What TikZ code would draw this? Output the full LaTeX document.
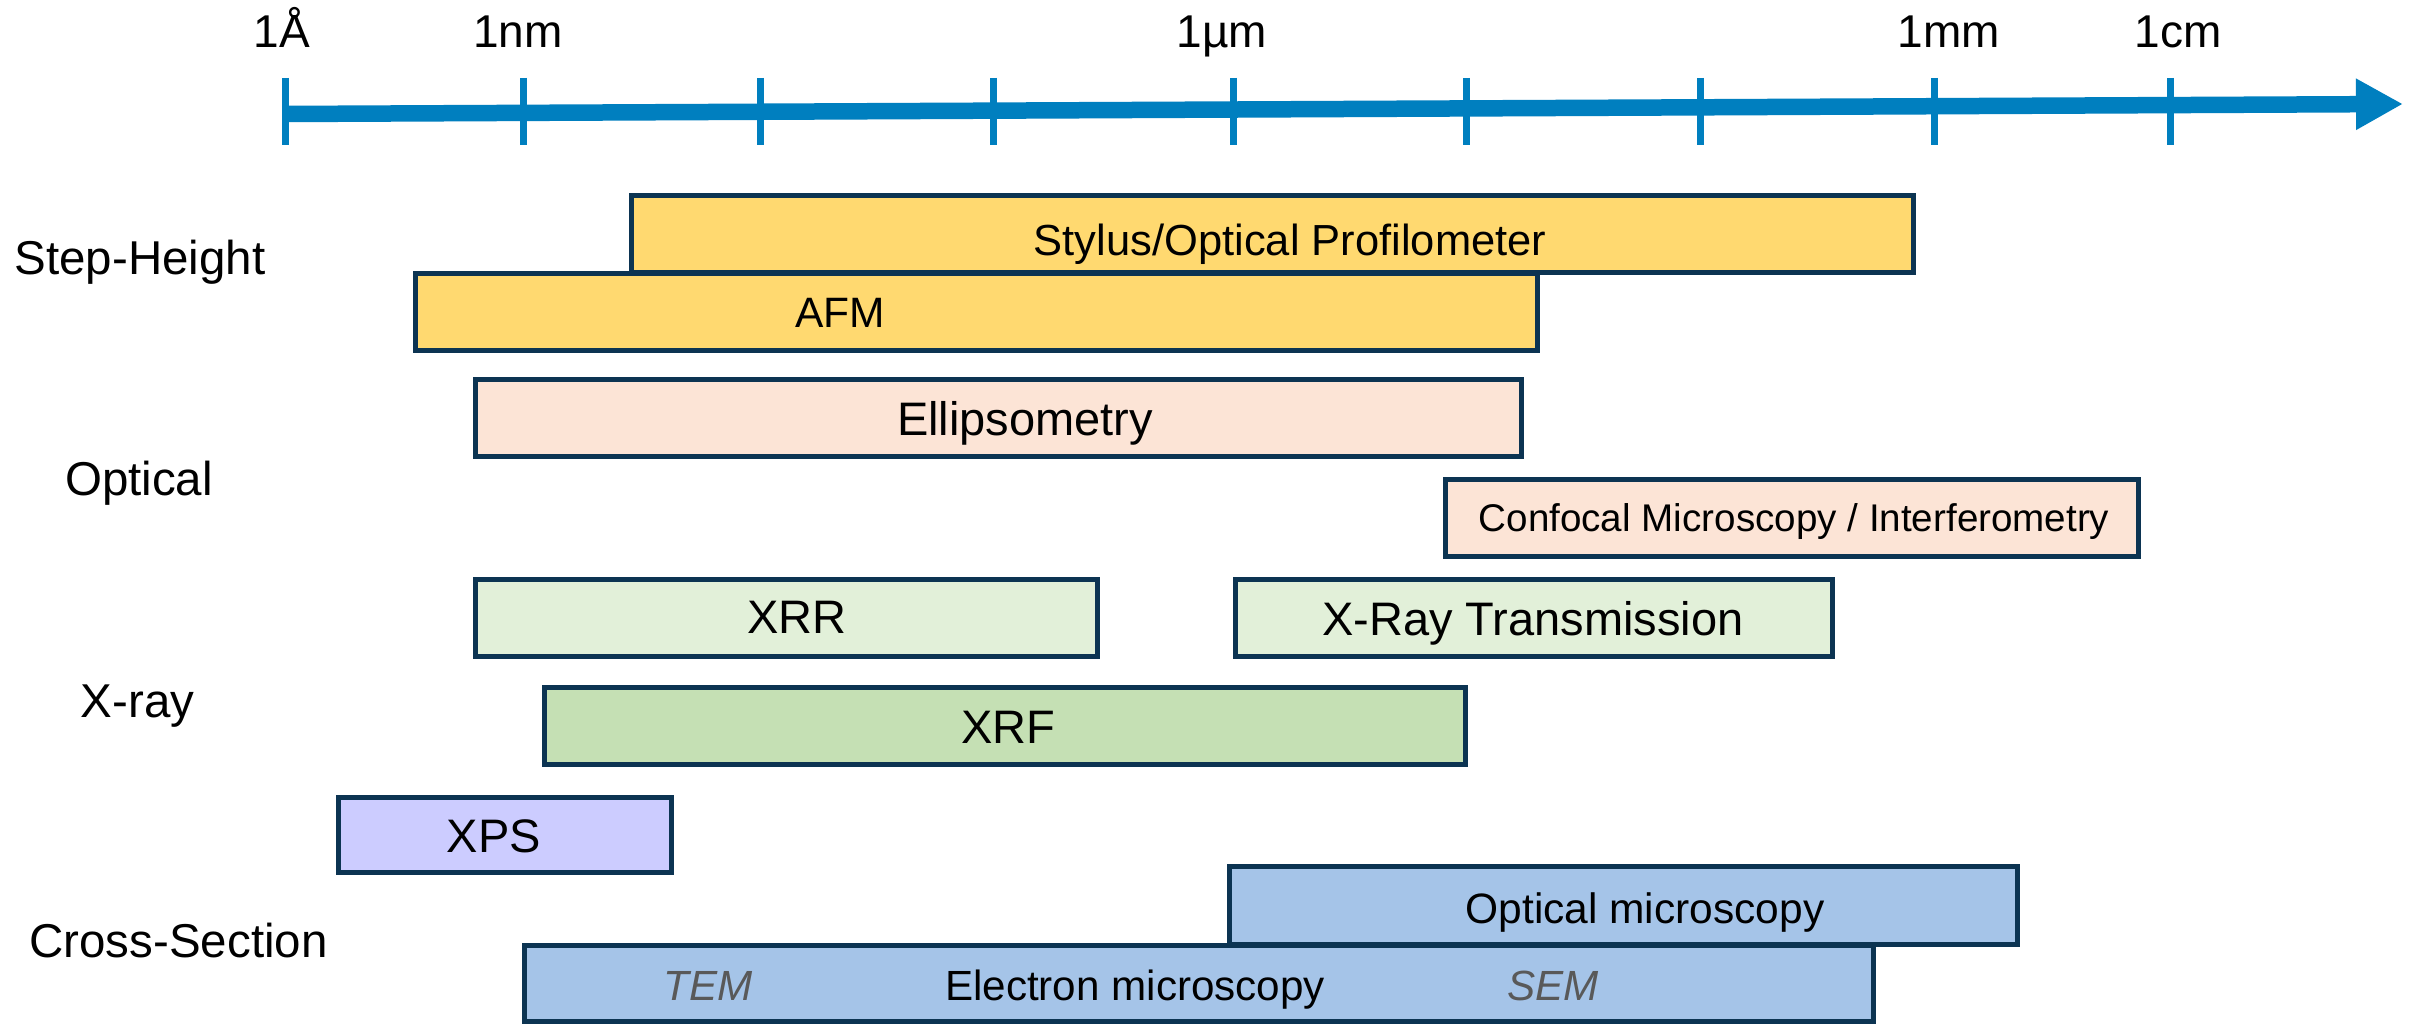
\documentclass[tikz,border=0pt]{standalone}
\usepackage{fontspec}
\setmainfont{Liberation Sans}
\usetikzlibrary{arrows.meta}
\definecolor{axisblue}{RGB}{0,127,191}
\definecolor{edgenavy}{RGB}{12,52,82}
\definecolor{gold}{RGB}{255,217,112}
\definecolor{peach}{RGB}{252,228,214}
\definecolor{palegreen}{RGB}{226,240,217}
\definecolor{midgreen}{RGB}{197,224,180}
\definecolor{lavender}{RGB}{204,204,255}
\definecolor{skyblue}{RGB}{165,196,232}
\definecolor{semgray}{RGB}{89,89,89}
\newcommand{\fs}[1]{\fontsize{#1}{#1}\selectfont}
\begin{document}
\begin{tikzpicture}[x=1pt,y=-1pt,
  bar/.style={draw=edgenavy, line width=5pt},
  lbl/.style={anchor=base, inner sep=0pt, text=black},
  axlbl/.style={lbl, font=\fs{46}},
  rowlbl/.style={lbl, font=\fs{47.5}},
  big/.style={lbl, font=\fs{47}},
  tickmark/.style={draw=axisblue, line width=7pt}]
\useasboundingbox[fill=white] (0,0) rectangle (2420,1030);

% axis
\coordinate (axL) at (285,114);
\coordinate (axR) at (2403,104);
\draw[draw=axisblue, line width=16.5pt, -{Triangle[length=47pt,width=48pt]}] (axL) -- (axR);
\foreach \x/\n in {285.5/t0,523/t1,760/t2,993/t3,1233/t4,1466/t5,1700/t6,1934/t7,2170/t8}{
  \coordinate (\n a) at (\x,78);
  \coordinate (\n b) at (\x,145);
  \draw[tickmark] (\n a) -- (\n b);
}
\node[axlbl] (lA) at (282,48) {1Å};
\node[axlbl] (lnm) at (518,48) {1nm};
\node[axlbl] (lum) at (1222,48) {1µm};
\node[axlbl] (lmm) at (1949,48) {1mm};
\node[axlbl] (lcm) at (2178,48) {1cm};

% row labels
\node[rowlbl] (rStep) at (140,274) {Step-Height};
\node[rowlbl] (rOpt) at (139,495) {Optical};
\node[rowlbl] (rX) at (137.5,717) {X-ray};
\node[rowlbl] (rCross) at (178.5,957) {Cross-Section};

% boxes
\path[bar, fill=gold] (415.5,273.5) rectangle (1537.5,350.5);
\path[bar, fill=gold] (631.5,195.5) rectangle (1913.5,272.5);
\path[bar, fill=peach] (475.5,379.5) rectangle (1521.5,456.5);
\path[bar, fill=peach] (1445.5,479.5) rectangle (2138.5,556.5);
\path[bar, fill=palegreen] (475.5,579.5) rectangle (1097.5,656.5);
\path[bar, fill=palegreen] (1235.5,579.5) rectangle (1832.5,656.5);
\path[bar, fill=midgreen] (544.5,687.5) rectangle (1465.5,764.5);
\path[bar, fill=lavender] (338.5,797.5) rectangle (671.5,872.5);
\path[bar, fill=skyblue] (524.5,945.5) rectangle (1873.5,1021.5);
\path[bar, fill=skyblue] (1229.5,866.5) rectangle (2017.5,944.5);

% box labels
\node[lbl, font=\fs{43.5}] (tStylus) at (1290,255) {Stylus/Optical Profilometer};
\node[lbl, font=\fs{42.5}] (tAFM) at (840,327) {AFM};
\node[big] (tEll) at (1025,435) {Ellipsometry};
\node[lbl, font=\fs{38.6}] (tConf) at (1794,531) {Confocal Microscopy / Interferometry};
\node[big] (tXRR) at (797,633) {XRR};
\node[big] (tXRT) at (1533,635) {X-Ray Transmission};
\node[big] (tXRF) at (1008,743) {XRF};
\node[big] (tXPS) at (494,852) {XPS};
\node[lbl, font=\fs{42.5}] (tOM) at (1645,923) {Optical microscopy};
\node[lbl, font=\fs{42.2}] (tEM) at (1135,1000) {Electron microscopy};
\node[lbl, font=\fs{42.2}\itshape, text=semgray] (tTEM) at (708,1000) {TEM};
\node[lbl, font=\fs{42.2}\itshape, text=semgray] (tSEM) at (1553,1000) {SEM};
\end{tikzpicture}
\end{document}
